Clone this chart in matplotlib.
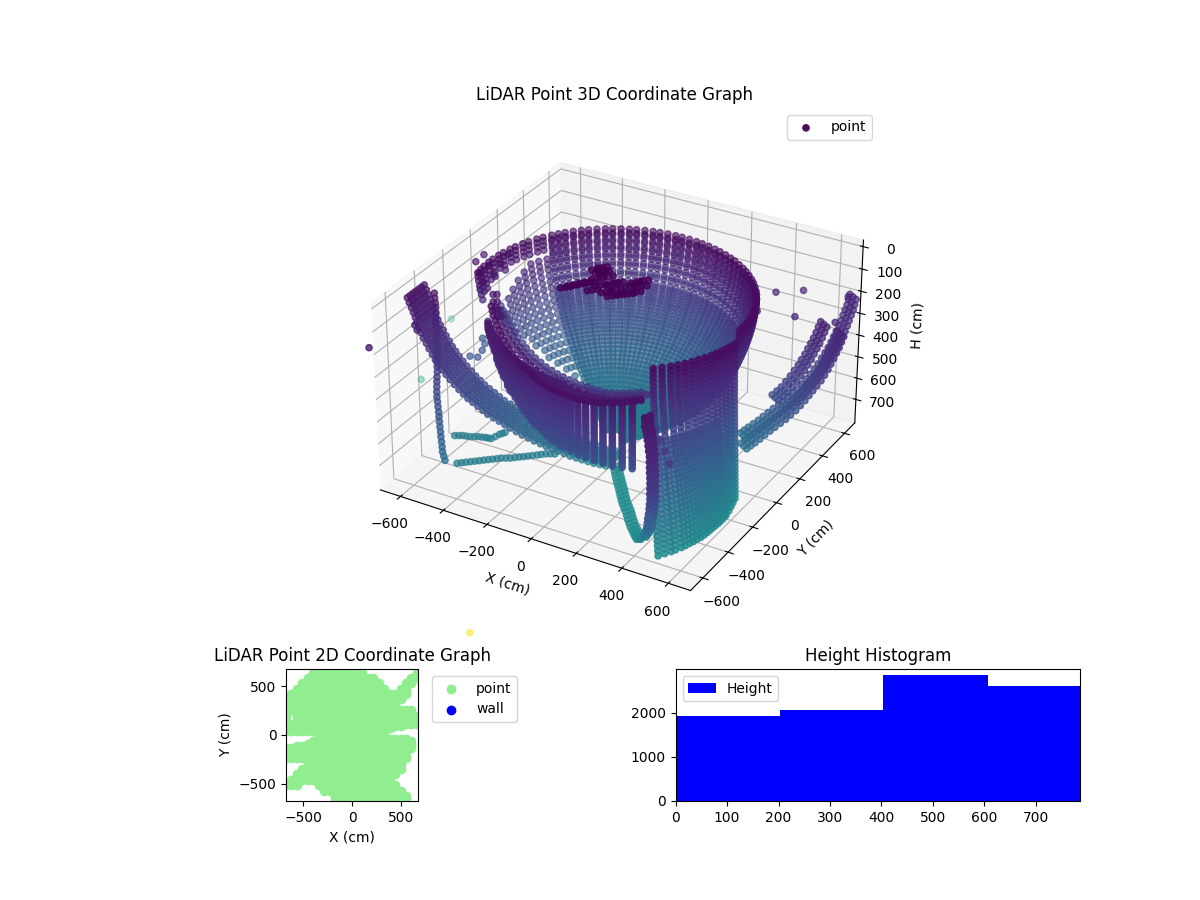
import numpy as np
import matplotlib
matplotlib.use('Agg')
import matplotlib.pyplot as plt

# bowl seen from above: one scan column per azimuth, same range/height profile
bowl_center = (-48, 6)
bowl_az = [0, 3, 6.5, 10, 13, 16.5, 20, 23, 26.5, 30, 33, 36.5, 40, 43, 46.5, 50, 53, 56.5, 60, 63, 66.5, 70,
           73, 76.5, 80, 83, 86.5, 90, 93, 96.5, 100, 103, 106.5, 110, 113, 116.5, 120, 123, 126.5, 130, 133,
           136.5, 140, 143, 146]
bowl_h = [94, 102, 111, 120, 130, 140, 150, 160, 170, 180, 190, 201, 212, 223, 234, 246, 258, 270, 282, 294,
          306, 318, 330, 342, 354, 366, 378, 390, 402, 414, 426, 438, 450, 462, 474, 486, 498, 510, 522, 534,
          546, 558, 570, 582, 594, 606, 618, 630, 642, 654, 666, 678, 690, 702, 714, 726, 738]
bowl_r = [561, 561, 560, 560, 558, 557, 555, 554, 552, 550, 548, 546, 543, 540, 537, 534, 530, 526, 522, 518,
          513, 508, 503, 497, 491, 485, 478, 471, 463, 455, 447, 438, 429, 419, 409, 398, 387, 375, 363, 350,
          337, 323, 309, 294, 279, 263, 247, 230, 213, 195, 177, 158, 139, 119, 99, 78, 57]
bowl_rows = [0, 2, 3, 5, 6, 8, 9, 11, 12, 14, 15, 17, 18, 20, 21, 22, 23, 24, 25, 26, 27, 28, 29, 30, 31, 32, 33,
             34, 35, 36, 37, 38, 39, 40, 41, 42, 43, 44, 45, 46, 47, 48, 49, 50, 51, 52, 53, 54, 55, 56]

# back left: short rim pieces, broken columns and the knot at the end of the rim
rim_az = [150, 153, 157, 160, 164, 167, 171, 174, 178, 181, 185, 188, 191]
rim_rows = [8, 7, 8, 7, 8, 8, 9, 8, 10, 9, 11, 12, 13]
rim_step = 2
frag_az = [149, 153, 157, 161, 165, 169, 173, 177]
frag_first = [10, 10, 10, 12, 14, 16, 18, 22]
frag_last = [44, 46, 44, 42, 40, 36, 32, 30]
knot_x = [-683, -620, -565, -621, -562, -588, -604, -687]
knot_y = [15, -57, -114, 15, -41, 51, 130, 82]
knot_h = 120

# front right wall, extra columns close the gaps in its lower part
wall_az = [-48, -44.5, -41, -38, -35, -32, -29, -26, -23, -20.5, -18, -15.5, -13, -10]
wall_reach = [215, 200, 183, 168, 153, 135, 117, 103, 88, 74, 60, 45, 32, 18]
wall_fill_az = [-50, -46, -42.5, -39.5, -36.5, -33.5, -30.5, -27.5, -24.5, -21.5]
wall_fill_reach = [225, 207, 191, 175, 160, 144, 126, 110, 95, 80]
wall_fill_first = 16
wall_h = [94, 112, 130, 148, 166, 184, 202, 220, 238, 256, 274, 292, 310, 328, 346, 364, 382, 400, 418, 436,
          454, 472, 490, 508, 526, 544, 562, 580, 598, 616, 634, 652, 670, 688, 706, 724, 742, 760, 778]
wall_flare = [0, .002, .006, .012, .02, .03, .042, .055, .07, .09, .11, .13, .155, .18, .205, .235, .265, .295,
              .33, .365, .40, .435, .47, .505, .54, .575, .61, .645, .68, .715, .75, .785, .815, .85, .88, .91,
              .94, .97, 1.0]
wall_rim = 555

# front left wall with the separated teeth
teeth_az = [-57, -60, -63, -66, -69, -72, -75, -78, -81, -83, -85, -87, -89, -91, -93, -95, -97, -99, -101,
            -103, -105, -107, -109, -111, -113, -115, -117, -119, -121, -123, -125, -127, -129, -131, -133,
            -135, -137, -139, -141]
teeth_r = [715, 705, 695, 680, 665, 650, 635, 620, 605, 600, 596, 592, 588, 584, 580, 576, 572, 568, 565, 562,
           559, 556, 553, 550, 547, 544, 541, 538, 535, 532, 530, 528, 527, 526, 525, 525, 525, 525, 525]
teeth_rows = [26, 26, 26, 26, 26, 26, 26, 26, 26, 26, 25, 25, 24, 23, 22, 22, 21, 20, 19, 18, 17, 16, 15, 15,
              14, 12, 12, 11, 10, 10, 9, 7, 7, 6, 6, 5, 5, 4, 4]
teeth_h = [150, 161, 172, 183, 194, 205, 216, 227, 238, 249, 260, 271, 282, 293, 304, 315, 326, 337, 348, 359,
           370, 381, 392, 403, 414, 425]

# curved band above the teeth, four strands and its upper tip
band_shift = (35, -60)
band1_x = [-458, -434, -411, -384, -358, -330, -303, -274, -244, -217, -190, -163, -136, -109, -82, -55, -29, -4, 21, 45,
           70, 92, 114, 135, 157, 177, 198, 216, 235, 253, 272, 289, 306, 322, 339, 354, 369, 384, 398]
band1_y = [-221, -251, -281, -310, -340, -368, -396, -424, -452, -476, -500, -520, -540, -555, -571, -586, -602, -614, -627, -635,
           -644, -648, -653, -654, -655, -656, -658, -655, -653, -647, -641, -631, -622, -612, -603, -590, -577, -563, -550]
band2_x = [-507, -473, -439, -402, -366, -330, -294, -257, -221, -185, -150, -114, -78, -44, -11, 20, 52, 81, 111, 136,
           162, 186, 210, 232, 254, 273, 293, 311, 329]
band2_y = [-115, -153, -191, -228, -265, -298, -330, -358, -385, -409, -433, -452, -472, -484, -495, -504, -512, -517, -522, -520,
           -519, -514, -510, -502, -493, -481, -469, -454, -440]
band3_x = [-543, -506, -469, -430, -392, -358, -324, -290, -255, -220, -184, -150, -117, -86, -54, -22, 10, 38, 65, 90,
           116, 140, 164, 184, 204, 224, 244, 262, 280]
band3_y = [-20, -61, -103, -138, -173, -202, -231, -256, -281, -300, -319, -336, -352, -360, -369, -377, -385, -387, -389, -387,
           -385, -380, -375, -364, -352, -340, -329, -314, -300]
band4_x = [-634, -606, -579, -544, -510, -474, -437, -400, -364, -328, -293, -257, -221, -188, -155, -124, -92, -62, -33, -5,
           23, 49, 75, 97, 119, 138, 158, 176, 194]
band4_y = [122, 94, 66, 32, -1, -34, -67, -94, -121, -145, -169, -188, -208, -220, -232, -240, -248, -254, -259, -260,
           -262, -260, -259, -251, -243, -231, -219, -204, -189]
band_h = [110, 180, 250, 320]
tip_x = [-507, -494, -474, -461, -437, -423, -398, -385]
tip_y = [-136, -128, -187, -179, -237, -229, -278, -270]
tip_h = 150

# legs running out to the corners
leg_a_x = [-753, -740, -726, -713, -700, -686, -671, -652, -633, -612, -592, -570, -549, -531, -513, -494, -474, -453, -432, -412, -393,
           -375, -356, -337, -318, -298, -279, -260, -242, -221, -201, -182, -164, -145, -127, -111, -95, -78, -61, -46, -32, -17, -3, 10, 23]
leg_a_y = [-311, -318, -325, -332, -339, -350, -361, -374, -387, -398, -410, -421, -433, -437, -441, -444, -447, -449, -451, -450, -449,
           -443, -437, -432, -427, -417, -407, -397, -387, -377, -367, -353, -339, -324, -310, -292, -275, -258, -241, -220, -200, -179, -158, -134, -110]
leg_a_h = [120, 135, 150, 165, 180, 192, 205, 218, 230, 242, 255, 268, 280, 295, 310, 325, 340, 355, 370, 385, 400,
           415, 430, 445, 460, 475, 490, 505, 520, 535, 550, 565, 580, 595, 610, 625, 640, 655, 670, 685, 700, 715, 730, 745, 760]
leg_a_spread = [-60, -40, -20, 0, 20, 40, 60]
leg_b_x = [-682, -674, -666, -656, -646, -638, -629, -618, -608, -600, -591, -582, -572, -563, -554, -544, -535, -527, -519, -510,
           -501, -494, -486, -478, -469, -462, -454, -446, -437, -432, -426, -420, -415, -414, -413]
leg_b_y = [-288, -298, -307, -320, -334, -348, -363, -376, -390, -405, -420, -433, -446, -461, -476, -490, -503, -518, -532, -547,
           -562, -572, -581, -591, -601, -610, -620, -630, -640, -646, -652, -658, -664, -658, -652]
leg_b_h = [120, 135, 150, 162, 175, 188, 200, 212, 225, 238, 250, 262, 275, 288, 300, 312, 325, 338, 350, 362,
           375, 390, 405, 420, 435, 450, 465, 480, 495, 512, 530, 548, 565, 588, 610]
floor1_x = [-433, -420, -407, -394, -381, -368, -355, -342, -329, -316, -304, -288, -273, -260, -247, -234, -221, -208, -194, -182, -169, -154, -138]
floor1_y = [-540, -528, -516, -504, -492, -480, -468, -456, -445, -433, -421, -412, -403, -391, -379, -368, -356, -344, -331, -319, -307, -298, -290]
floor2_x = [-554, -540, -527, -512, -496, -482, -469, -454, -440, -428, -416, -410, -405, -399, -393]
floor2_y = [-370, -362, -354, -350, -346, -338, -330, -326, -321, -319, -317, -296, -274, -262, -250]
floor_h = 690

right_a_x = [688, 696, 705, 711, 717, 722, 726, 728, 731, 734, 736, 734, 732, 730, 727, 720, 712, 704, 695, 682, 669, 653, 637, 620, 603, 589, 575, 559, 543, 528, 514]
right_a_y = [637, 608, 578, 548, 518, 492, 465, 438, 410, 382, 355, 331, 307, 281, 255, 236, 218, 199, 180, 167, 154, 144, 135, 124, 114, 100, 87, 76, 66, 61, 56]
right_a_h = [200, 208, 215, 222, 230, 240, 250, 260, 270, 280, 290, 302, 315, 328, 340, 355, 370, 385, 400, 415, 430, 448, 465, 482, 500, 515, 530, 545, 560, 575, 590]
right_b_x = [695, 697, 699, 700, 700, 700, 700, 696, 693, 686, 678, 667, 656, 640, 623]
right_b_y = [363, 340, 317, 294, 271, 247, 223, 202, 182, 164, 146, 131, 116, 110, 105]
right_b_h = [190, 202, 215, 228, 240, 252, 265, 280, 295, 312, 330, 350, 370, 390, 410]
right_c_x = [778, 780, 782, 782, 783, 781, 779, 776, 772, 762, 753, 742, 731, 718, 705, 688, 672, 653, 634, 618, 601, 585, 569, 554, 540]
right_c_y = [343, 320, 297, 274, 250, 230, 210, 188, 167, 152, 138, 128, 117, 105, 93, 84, 75, 68, 61, 52, 42, 32, 23, 17, 11]
right_c_h = [200, 212, 225, 238, 250, 265, 280, 295, 310, 328, 345, 365, 385, 405, 425, 445, 465, 485, 505, 522, 540, 558, 575, 590, 605]
right_spread_x = [-20, 0, 20]
right_spread_y = [13, 0, -13]

# the narrow U in front
u_x = [38, 54, 69, 86, 102, 119, 136, 152, 168, 185, 202, 220, 239, 256, 273, 291, 309, 326, 343, 357, 371,
       392, 430, 464, 499, 529, 559, 569, 578, 588, 596, 604, 612, 618, 616, 614, 612, 605, 599, 592, 586, 573, 561, 548, 536, 527, 516, 510, 502]
u_y = [-112, -134, -156, -178, -199, -220, -242, -263, -284, -306, -327, -347, -367, -388, -410, -431, -452, -469, -486, -500, -513,
       -533, -583, -632, -680, -723, -767, -781, -794, -806, -816, -828, -839, -851, -847, -843, -840, -830, -820, -809, -798, -781, -764, -746, -729, -720, -710, -698, -686]
u_h = [790, 790, 790, 790, 790, 790, 790, 790, 790, 790, 790, 790, 790, 790, 790, 790, 790, 790, 790, 790, 790,
       770, 730, 680, 630, 580, 530, 500, 470, 440, 410, 380, 350, 320, 300, 280, 260, 245, 230, 215, 200, 190, 180, 170, 160, 150, 140, 130, 120]
u_spread_x = [-5, 5]
u_spread_y = [-12, 12]

# dark clump near the middle and loose single returns
clump_x = [-186, -170, -154, -142, -122, -117, -127, -121, -85, -41, -5, -77, -30, 5, 24, 51, 70, 67, 50, 27, 31, -29, -156, -143, -85]
clump_y = [-116, -89, -71, -46, -35, 3, 51, 72, 40, -6, -38, -36, -71, -86, -57, -42, -13, 38, 82, 15, 53, 19, 70, 95, -84]
clump_h = 40
clump_spread = [-14, 0, 14]
loose_x = [-700, -881, -1447, -1265, -488, 340, 406, 494, 671, 413, 562, 719, -647, -614, -595, -581, -612, -657, -628, 410, 458, 517, 573]
loose_y = [-715, 343, 962, 441, -406, 471, 519, 587, 628, 345, 378, 415, -7, -41, -91, -146, -155, -466, -494, -456, -516, -580, -645]
loose_h = [160, 450, 1050, 1050, 1600, 200, 200, 200, 200, 200, 200, 200, 450, 450, 450, 450, 450, 170, 170, 320, 320, 320, 320]

# 2D view, filled runs of points
plan_columns = [-680, -624, -568, -512, -456, -400, -344, -288, -232, -176, -120, -64, -8, 48, 104, 160,
                216, 272, 328, 384, 440, 496, 552, 608, 664]
span_y = [640, 640, 585, 585, 530, 530, 475, 475, 420, 365, 310, 255, 200, 200, 145, 145, 115, 90, 68, 45, 0,
          -45, -65, -90, -110, -130, -185, -240, -295, -350, -405, -460, -515, -515, -570, -625, -650]
span_first = [5, 24, 4, 23, 3, 22, 2, 21, 1, 0, 0, 0, 0, 2, 0, 2, 0, 0, 0, 0, 6,
              6, 5, 4, 2, 0, 0, 0, 4, 3, 2, 1, 0, 6, 7, 9, 9]
span_last = [14, 24, 16, 24, 17, 23, 18, 22, 22, 21, 20, 23, 0, 24, 0, 24, 24, 21, 19, 18, 18,
             22, 23, 23, 23, 23, 22, 22, 21, 21, 20, 19, 2, 20, 21, 22, 22]

hist_edges = [0, 202, 404, 608, 810]
hist_counts = [1939, 2076, 2860, 2621]


def scan_points(az, r, h):
    a = np.radians(az)
    return r * np.cos(a), r * np.sin(a), h


xs, ys, hs = [], [], []


def add(x, y, h):
    xs.append(np.asarray(x, float))
    ys.append(np.asarray(y, float))
    hs.append(np.asarray(h, float))


def add_bowl(az, r, h):
    px, py, ph = scan_points(az, np.array(r, float), np.array(h, float))
    add(px + bowl_center[0], py + bowl_center[1], ph)


for a in bowl_az:
    add_bowl(a, np.array(bowl_r)[bowl_rows], np.array(bowl_h)[bowl_rows])
for a, n in zip(rim_az, rim_rows):
    add_bowl(a, bowl_r[:n:rim_step], bowl_h[:n:rim_step])
for a, f, l in zip(frag_az, frag_first, frag_last):
    add_bowl(a, bowl_r[f:l:rim_step], bowl_h[f:l:rim_step])
add(knot_x, knot_y, np.full(len(knot_x), float(knot_h)))
for a, reach in zip(wall_az, wall_reach):
    add(*scan_points(a, wall_rim + reach * np.array(wall_flare), np.array(wall_h, float)))
for a, reach in zip(wall_fill_az, wall_fill_reach):
    add(*scan_points(a, wall_rim + reach * np.array(wall_flare[wall_fill_first:]),
                     np.array(wall_h[wall_fill_first:], float)))
for a, r, n in zip(teeth_az, teeth_r, teeth_rows):
    add(*scan_points(a, np.full(n, float(r)), np.array(teeth_h[:n], float)))
for bx, by, bh in zip([band1_x, band2_x, band3_x, band4_x], [band1_y, band2_y, band3_y, band4_y], band_h):
    add(np.array(bx) + band_shift[0], np.array(by) + band_shift[1], np.full(len(bx), float(bh)))
add(tip_x, tip_y, np.full(len(tip_x), float(tip_h)))
for s in leg_a_spread:
    add(leg_a_x, np.array(leg_a_y) + s, leg_a_h)
add(leg_b_x, leg_b_y, leg_b_h)
add(floor1_x, floor1_y, np.full(len(floor1_x), float(floor_h)))
add(floor2_x, floor2_y, np.full(len(floor2_x), float(floor_h)))
for dx, dy in zip(right_spread_x, right_spread_y):
    add(np.array(right_a_x) + dx, np.array(right_a_y) + dy, right_a_h)
    add(np.array(right_b_x) + dx, np.array(right_b_y) + dy, right_b_h)
    add(np.array(right_c_x) + dx, np.array(right_c_y) + dy, right_c_h)
for dx, dy in zip(u_spread_x, u_spread_y):
    add(np.array(u_x) + dx, np.array(u_y) + dy, u_h)
for s in clump_spread:
    add(np.array(clump_x) + s, np.array(clump_y) + s, np.full(len(clump_x), float(clump_h)))
add(loose_x, loose_y, loose_h)

x = np.concatenate(xs)
y = np.concatenate(ys)
h = np.concatenate(hs)

fig = plt.figure(figsize=(12, 9), dpi=100)
gs = fig.add_gridspec(2, 2, height_ratios=[4, 1], hspace=0.1, wspace=0.3)

ax = fig.add_subplot(gs[0, :], projection='3d')
ax.scatter(x, y, h, c=h, cmap='viridis', label='point')
ax.set_xlim(-695, 695)
ax.set_ylim(-695, 695)
ax.set_zlim(811, -29)
ax.set_box_aspect((1390, 1390, 840))
ax.set_xticks([-600, -400, -200, 0, 200, 400, 600])
ax.set_yticks([-600, -400, -200, 0, 200, 400, 600])
ax.set_zticks([0, 100, 200, 300, 400, 500, 600, 700])
ax.set_xlabel('X (cm)')
ax.set_ylabel('Y (cm)')
ax.set_zlabel('H (cm)')
ax.set_title('LiDAR Point 3D Coordinate Graph')
ax.legend(loc='upper right')

ax2 = fig.add_subplot(gs[1, 0])
plan_x, plan_y = [], []
for sy, first, last in zip(span_y, span_first, span_last):
    run = plan_columns[first:last + 1]
    plan_x += run
    plan_y += [sy] * len(run)
ax2.scatter(plan_x, plan_y, c='lightgreen', label='point')
ax2.scatter([], [], c='blue', label='wall')
ax2.set_xlim(-677, 677)
ax2.set_ylim(-677, 677)
ax2.set_aspect('equal')
ax2.set_xlabel('X (cm)')
ax2.set_ylabel('Y (cm)')
ax2.set_title('LiDAR Point 2D Coordinate Graph')
ax2.legend(loc='upper left', bbox_to_anchor=(1.05, 1))

ax3 = fig.add_subplot(gs[1, 1])
ax3.bar(hist_edges[:-1], hist_counts, width=np.diff(hist_edges), align='edge', color='blue', label='Height')
ax3.set_xlim(0, 786)
ax3.set_ylim(0, 2998)
ax3.set_title('Height Histogram')
ax3.legend(loc='upper left')

fig.savefig('out.png', dpi=100)
